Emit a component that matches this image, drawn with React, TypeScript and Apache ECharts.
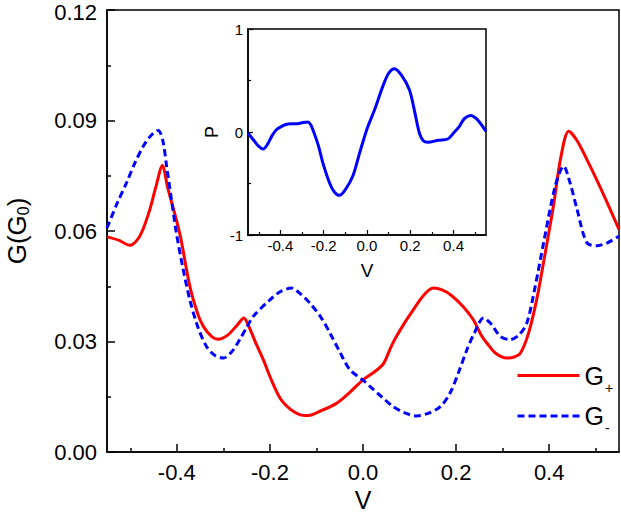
import React, { useEffect, useRef } from "react";
import * as echarts from "echarts";

// ---- Data ----
const vPlus = [
  -0.55, -0.525, -0.501, -0.48, -0.46, -0.445, -0.431, -0.42, -0.394, -0.372, -0.355, -0.343, -0.325, -0.311,
  -0.29, -0.27, -0.256, -0.245, -0.23, -0.214, -0.2, -0.178, -0.155, -0.135, -0.118, -0.09, -0.057, -0.03, 0.0,
  0.025, 0.044, 0.06, 0.072, 0.09, 0.108, 0.13, 0.151, 0.17, 0.19, 0.215, 0.237, 0.255, 0.266, 0.285, 0.309,
  0.325, 0.338, 0.355, 0.373, 0.39, 0.409, 0.425, 0.442, 0.46, 0.488, 0.52, 0.55,
];
const gPlus = [
  0.0584, 0.0575, 0.0561, 0.0585, 0.065, 0.072, 0.0778, 0.072, 0.0595, 0.045, 0.0375, 0.0341, 0.0313, 0.0306,
  0.0318, 0.0345, 0.0364, 0.034, 0.0295, 0.025, 0.0205, 0.0146, 0.0115, 0.0101, 0.0099, 0.0112, 0.0132, 0.016,
  0.0196, 0.0218, 0.024, 0.0285, 0.0314, 0.0352, 0.0386, 0.0425, 0.0445, 0.044, 0.0425, 0.0395, 0.0359, 0.0315,
  0.0296, 0.0268, 0.0255, 0.0258, 0.0268, 0.032, 0.0413, 0.053, 0.0667, 0.08, 0.0871, 0.0845, 0.0776, 0.069,
  0.0604,
];
const vMinus = [
  -0.55, -0.53, -0.508, -0.49, -0.472, -0.455, -0.44, -0.43, -0.422, -0.412, -0.401, -0.387, -0.372, -0.355,
  -0.336, -0.318, -0.3, -0.282, -0.265, -0.25, -0.236, -0.2, -0.178, -0.153, -0.135, -0.114, -0.09, -0.071,
  -0.05, -0.028, 0.0, 0.015, 0.04, 0.065, 0.09, 0.115, 0.14, 0.166, 0.187, 0.205, 0.223, 0.24, 0.259, 0.275,
  0.295, 0.316, 0.335, 0.352, 0.37, 0.388, 0.413, 0.431, 0.445, 0.46, 0.481, 0.503, 0.525, 0.55,
];
const gMinus = [
  0.0608, 0.067, 0.0731, 0.0785, 0.083, 0.086, 0.0873, 0.0845, 0.0776, 0.069, 0.0595, 0.05, 0.0413, 0.034,
  0.0286, 0.0262, 0.0255, 0.0272, 0.0305, 0.0338, 0.0368, 0.0413, 0.0435, 0.0445, 0.043, 0.0404, 0.0365,
  0.0323, 0.0272, 0.0223, 0.0195, 0.0178, 0.015, 0.0123, 0.0106, 0.0098, 0.0105, 0.0123, 0.016, 0.0215,
  0.0277, 0.0325, 0.0364, 0.0348, 0.0314, 0.0305, 0.0318, 0.035, 0.045, 0.0568, 0.0722, 0.0776, 0.073, 0.0658,
  0.0568, 0.056, 0.0568, 0.0586,
];
const vInset = [
  -0.55, -0.52, -0.5, -0.48, -0.46, -0.44, -0.419, -0.39, -0.365, -0.327, -0.3, -0.273, -0.26, -0.25, -0.225,
  -0.204, -0.173, -0.15, -0.127, -0.1, -0.066, -0.035, 0.0, 0.035, 0.073, 0.1, 0.127, 0.16, 0.196, 0.22, 0.242,
  0.26, 0.281, 0.33, 0.373, 0.4, 0.427, 0.45, 0.478, 0.51, 0.55,
];
const pInset = [
  -0.01, -0.09, -0.14, -0.165, -0.12, -0.04, 0.022, 0.06, 0.078, 0.08, 0.09, 0.097, 0.07, 0.022, -0.13, -0.3,
  -0.495, -0.585, -0.615, -0.56, -0.43, -0.21, 0.03, 0.216, 0.443, 0.57, 0.615, 0.55, 0.41, 0.2, -0.01, -0.085,
  -0.1, -0.08, -0.068, -0.01, 0.055, 0.13, 0.16, 0.12, 0.006,
];
const xMajorTicks = [-0.4, -0.2, 0.0, 0.2, 0.4];
const xMinorTicks = [-0.5, -0.3, -0.1, 0.1, 0.3, 0.5];

const FONT = "Liberation Sans";

export default function App() {
  const ref = useRef<HTMLDivElement>(null);
  useEffect(() => {
    if (!ref.current) return;
    const chart = echarts.init(ref.current, null, { renderer: "svg" });
    const zip = (a: number[], b: number[]) => a.map((v, i) => [v, b[i]]);
    const lbl = { fontFamily: FONT, color: "#000" };
    const mainGrid = { left: 107, right: 2, top: 10, bottom: 64, outerBoundsMode: "none", containLabel: false };
    const insetGrid = { left: 248, top: 29, width: 238, height: 206, outerBoundsMode: "none", containLabel: false };

    const option: any = {
      animation: false,
      backgroundColor: "#fff",
      grid: [
        { ...mainGrid, show: true, borderColor: "#000", borderWidth: 1.5, backgroundColor: "transparent" },
        { ...mainGrid },
        { ...insetGrid, show: true, borderColor: "#000", borderWidth: 1.5, backgroundColor: "#fff" },
        { ...insetGrid },
      ],
      xAxis: [
        {
          type: "value", gridIndex: 0, min: -0.55, max: 0.55, position: "bottom",
          name: "V", nameLocation: "middle", nameGap: 33,
          nameTextStyle: { ...lbl, fontSize: 25 },
          splitLine: { show: false },
          axisLine: { onZero: false, lineStyle: { color: "#000", width: 1.5 } },
          axisTick: { inside: true, length: 8, customValues: xMajorTicks, lineStyle: { color: "#000", width: 1.5 } },
          axisLabel: { ...lbl, fontSize: 22, margin: 9, customValues: xMajorTicks, formatter: (v: number) => v.toFixed(1) },
        },
        {
          type: "value", gridIndex: 1, min: -0.55, max: 0.55, position: "bottom",
          splitLine: { show: false }, axisLine: { show: false, onZero: false }, axisLabel: { show: false },
          axisTick: { inside: true, length: 4, customValues: xMinorTicks, lineStyle: { color: "#000", width: 1.5 } },
        },
        {
          type: "value", gridIndex: 2, min: -0.55, max: 0.55, position: "bottom",
          name: "V", nameLocation: "middle", nameGap: 26,
          nameTextStyle: { ...lbl, fontSize: 19 },
          splitLine: { show: false },
          axisLine: { onZero: false, lineStyle: { color: "#000", width: 1.5 } },
          axisTick: { inside: true, length: 5, customValues: xMajorTicks, lineStyle: { color: "#000", width: 1.2 } },
          axisLabel: { ...lbl, fontSize: 15, margin: 3, customValues: xMajorTicks, formatter: (v: number) => v.toFixed(1) },
        },
        {
          type: "value", gridIndex: 3, min: -0.55, max: 0.55, position: "bottom",
          splitLine: { show: false }, axisLine: { show: false, onZero: false }, axisLabel: { show: false },
          axisTick: { inside: true, length: 3, customValues: xMinorTicks, lineStyle: { color: "#000", width: 1.2 } },
        },
      ],
      yAxis: [
        {
          type: "value", gridIndex: 0, min: 0, max: 0.12, interval: 0.03,
          name: "{a|G(G}{b|0}{a|)}", nameLocation: "middle", nameGap: 76,
          nameTextStyle: {
            ...lbl,
            rich: {
              a: { fontFamily: FONT, fontSize: 26, color: "#000" },
              b: { fontFamily: FONT, fontSize: 16, color: "#000", padding: [12, 0, 0, 0] },
            },
          },
          splitLine: { show: false },
          axisLine: { onZero: false, lineStyle: { color: "#000", width: 1.5 } },
          axisTick: { inside: true, length: 8, lineStyle: { color: "#000", width: 1.5 } },
          minorTick: { show: true, splitNumber: 2, length: 4, lineStyle: { color: "#000", width: 1.5 } },
          axisLabel: {
            ...lbl, fontSize: 22, margin: 10,
            formatter: (v: number) => (Math.abs(v - 0.12) < 1e-9 ? `{t|${v.toFixed(2)}}` : v.toFixed(2)),
            rich: { t: { fontFamily: FONT, fontSize: 22, color: "#000", lineHeight: 20, padding: [5, 0, 0, 0] } },
          },
        },
        {
          type: "value", gridIndex: 1, min: 0, max: 0.12, interval: 0.03, show: false,
          axisLine: { onZero: false },
        },
        {
          type: "value", gridIndex: 2, min: -1, max: 1, interval: 1,
          name: "P", nameLocation: "middle", nameGap: 27,
          nameTextStyle: { ...lbl, fontSize: 18 },
          splitLine: { show: false },
          axisLine: { onZero: false, lineStyle: { color: "#000", width: 1.5 } },
          axisTick: { inside: true, length: 5, lineStyle: { color: "#000", width: 1.2 } },
          minorTick: { show: true, splitNumber: 2, length: 3, lineStyle: { color: "#000", width: 1.2 } },
          axisLabel: { ...lbl, fontSize: 15, margin: 5, formatter: (v: number) => String(v) },
        },
        {
          type: "value", gridIndex: 3, min: -1, max: 1, interval: 1, show: false,
          axisLine: { onZero: false },
        },
      ],
      legend: {
        data: ["G+", "G-"],
        orient: "vertical",
        left: 511,
        top: 358,
        itemWidth: 62,
        itemHeight: 14,
        itemGap: 9,
        itemStyle: { opacity: 0, borderWidth: 0 },
        lineStyle: { width: 3 },
        formatter: (name: string) => (name === "G+" ? "{g|G}{s|+}" : "{g|G}{s|-}"),
        textStyle: {
          rich: {
            g: { fontFamily: FONT, fontSize: 25, color: "#000", lineHeight: 28 },
            s: { fontFamily: FONT, fontSize: 14, color: "#000", padding: [24, 0, 0, 1] },
          },
        },
      },
      series: [
        {
          name: "G+", type: "line", xAxisIndex: 0, yAxisIndex: 0, data: zip(vPlus, gPlus),
          symbol: "none", smooth: 0.3, lineStyle: { color: "#ff0000", width: 3 }, itemStyle: { color: "#ff0000" },
        },
        {
          name: "G-", type: "line", xAxisIndex: 0, yAxisIndex: 0, data: zip(vMinus, gMinus),
          symbol: "none", smooth: 0.3, lineStyle: { color: "#0000ff", width: 3, type: [7, 4] }, itemStyle: { color: "#0000ff" },
        },
        {
          name: "P", type: "line", xAxisIndex: 2, yAxisIndex: 2, data: zip(vInset, pInset),
          symbol: "none", smooth: 0.3, lineStyle: { color: "#0000ff", width: 3 }, itemStyle: { color: "#0000ff" },
        },
      ],
    };
    chart.setOption(option);
    return () => chart.dispose();
  }, []);
  return (
    <div
      ref={ref}
      style={{ position: "fixed", left: 0, top: 0, width: 621, height: 516, background: "#fff" }}
    />
  );
}
